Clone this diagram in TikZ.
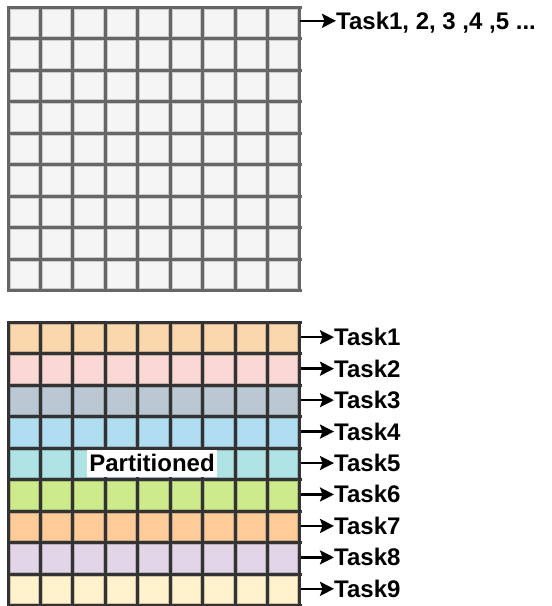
\documentclass[tikz,border=0pt]{standalone}
\usepackage{fontspec}
\setmainfont{Liberation Sans}
\usetikzlibrary{arrows.meta}
\definecolor{topfill}{HTML}{F5F5F5}
\definecolor{topline}{HTML}{666666}
\definecolor{botline}{HTML}{333333}
\definecolor{rowA}{HTML}{FAD7AC}
\definecolor{rowB}{HTML}{FAD9D5}
\definecolor{rowC}{HTML}{BAC8D3}
\definecolor{rowD}{HTML}{B1DDF0}
\definecolor{rowE}{HTML}{B0E3E6}
\definecolor{rowF}{HTML}{CDEB8B}
\definecolor{rowG}{HTML}{FFCC99}
\definecolor{rowH}{HTML}{E1D5E7}
\definecolor{rowI}{HTML}{FFF2CC}
\begin{document}
\begin{tikzpicture}[
        x=1pt, y=-1pt,
        task/.style={inner sep=0pt, text height=17pt, text depth=0pt, anchor=west,
            font=\fontsize{24}{28}\selectfont\bfseries},
        pointer/.style={line width=2.4pt, -{Stealth[length=14pt, width=14pt, inset=2.5pt]}},
        gridline/.style={line width=3pt, line cap=rect},
        celledge/.style={line width=1pt},
    ]
    \useasboundingbox (0,0) rectangle (552,606);

    % one block, all tasks
    \fill[topfill] (8,7.3) rectangle (300,290.5);
    \foreach \i in {0,...,8}
        \foreach \j in {0,...,8}
            \draw[celledge, topline!30!topfill] ({8+\i*32.44+2},{7.3+\j*31.47+2}) rectangle ++(28.44,27.47);
    \foreach \k in {0,...,9} {
        \draw[gridline, topline] ({8+\k*32.44},7.3) -- ++(0,283.2);
        \draw[gridline, topline] (8,{7.3+\k*31.47}) -- ++(292,0);
    }
    \coordinate (r0) at (300,20.8);
    \node[task] (t0) at (336,20.8) {Task1, 2, 3 ,4 ,5 ...};
    \draw[pointer] (r0) -- (t0.west);

    % partitioned block, one task per row
    \foreach \c [count=\n] in {rowA,rowB,rowC,rowD,rowE,rowF,rowG,rowH,rowI} {
        \fill[\c] (8,{322.5+(\n-1)*31.45}) rectangle ++(292,31.45);
        \foreach \i in {0,...,8}
            \draw[celledge, \c!75!botline] ({8+\i*32.44+2},{322.5+(\n-1)*31.45+2}) rectangle ++(28.44,27.45);
        \coordinate (r\n) at (300,{322.5+(\n-0.5)*31.45-1});
        \node[task] (t\n) at (334,{322.5+(\n-0.5)*31.45-1}) {Task\n};
        \draw[pointer] (r\n) -- (t\n.west);
    }
    \foreach \k in {0,...,9} {
        \draw[gridline, botline] ({8+\k*32.44},322.5) -- ++(0,283.05);
        \draw[gridline, botline] (8,{322.5+\k*31.45}) -- ++(292,0);
    }
    \node[fill=white, inner xsep=2.5pt, inner ysep=3.3pt, text height=18pt, text depth=2pt,
        font=\fontsize{24}{28}\selectfont\bfseries] (part) at (152,463.5) {Partitioned};
\end{tikzpicture}
\end{document}
